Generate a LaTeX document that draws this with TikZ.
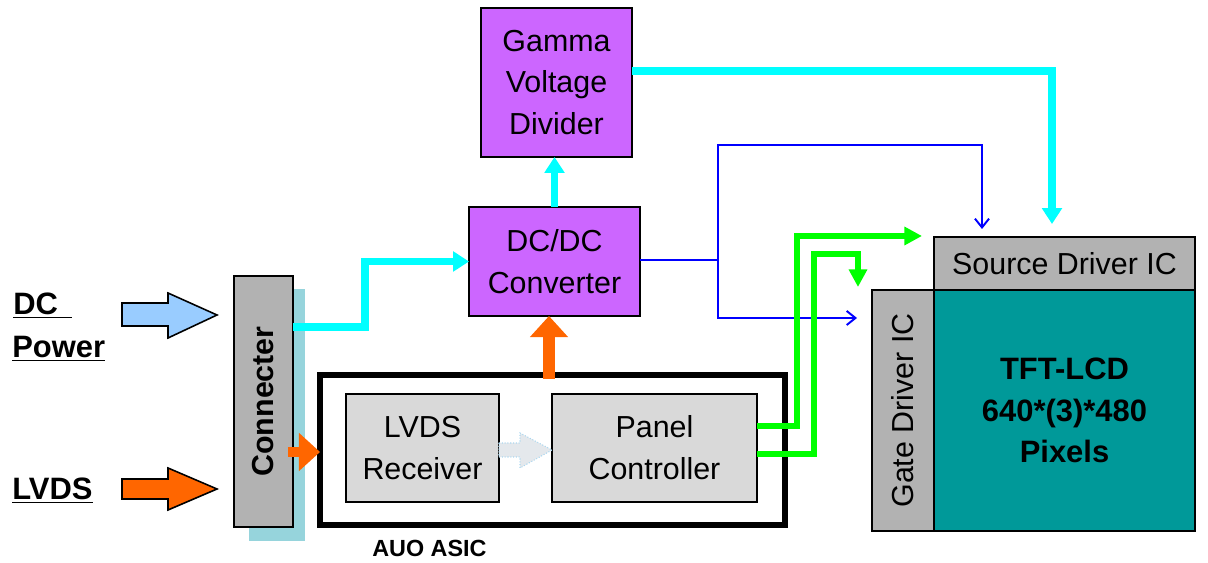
\documentclass[tikz,border=0pt]{standalone}
\usepackage{fontspec}
\setmainfont{Liberation Sans}
\usetikzlibrary{arrows.meta,calc}
\definecolor{purp}{RGB}{204,102,255}
\definecolor{cyanl}{RGB}{0,255,255}
\definecolor{blu}{RGB}{0,0,255}
\definecolor{grn}{RGB}{0,255,0}
\definecolor{orng}{RGB}{255,102,0}
\definecolor{gry}{RGB}{178,178,178}
\definecolor{lgry}{RGB}{217,217,217}
\definecolor{tealb}{RGB}{0,153,153}
\definecolor{ltblue}{RGB}{153,204,255}
\definecolor{shad}{RGB}{150,212,220}
\definecolor{paleg}{RGB}{228,232,236}
\definecolor{paleb}{RGB}{170,215,240}
\begin{document}
\begin{tikzpicture}[x=0.02cm,y=-0.02cm,
  box/.style={draw=black,line width=0.9pt,inner sep=0pt,outer sep=0pt,align=center,
    font=\fontsize{17.3}{23.8}\selectfont},
  cyanline/.style={draw=cyanl,line width=4pt,-{Triangle[length=9pt,width=11pt]}},
  blueline/.style={draw=blu,line width=1.1pt,-{Straight Barb[length=5pt,width=8pt]}},
  greenline/.style={draw=grn,line width=3.4pt,-{Triangle[length=10pt,width=10pt]}},
  orangearrow/.style={draw=orng,-{Triangle[length=12pt,width=21pt]}},
  lbl/.style={inner sep=0pt,anchor=base west,font=\fontsize{17.6}{20}\selectfont\bfseries},
  blockarrow/.style={draw=black,line width=0.9pt}]
\useasboundingbox (0,0) rectangle (1208,563);
% shadow of connector
\fill[shad] (249,289) rectangle (305,541);
% nodes
\node[box,fill=purp,minimum width=3.02cm,minimum height=2.98cm] (gamma) at (556.5,82.5) {Gamma\\Voltage\\Divider};
\node[box,fill=purp,minimum width=3.42cm,minimum height=2.18cm] (dcdc) at (554.5,261.5) {DC/DC\\Converter};
\node[box,fill=gry,minimum width=1.18cm,minimum height=5.02cm] (conn) at (263.5,401.5) {};
\node[rotate=90,font=\fontsize{17.3}{20}\selectfont\bfseries] at (conn.center) {Connecter};
\node[draw=black,line width=3.4pt,inner sep=0pt,outer sep=0pt,minimum width=9.3cm,minimum height=3.0cm] (asic) at (552.5,450) {};
\node[box,fill=lgry,minimum width=3.06cm,minimum height=2.16cm] (lvds) at (422.5,448) {LVDS\\Receiver};
\node[box,fill=lgry,minimum width=4.1cm,minimum height=2.16cm] (panel) at (654.5,448) {Panel\\Controller};
\node[box,fill=gry,minimum width=5.22cm,minimum height=1.06cm] (source) at (1064.5,263.5) {\raisebox{-2pt}{Source Driver IC}};
\node[box,fill=gry,minimum width=1.24cm,minimum height=4.82cm] (gate) at (903,410.5) {};
\node[rotate=90,font=\fontsize{17.3}{20}\selectfont] at (gate.center) {Gate Driver IC};
\node[box,fill=tealb,minimum width=5.22cm,minimum height=4.82cm,font=\fontsize{17.6}{23.8}\selectfont\bfseries] (tft) at (1064.5,410.5) {TFT-LCD\\640*(3)*480\\Pixels};
% labels
\node[lbl] (dclbl) at (13,315) {\underline{DC\ \,}};
\node[lbl] (pwlbl) at (12,358) {\underline{Power}};
\node[lbl] (lvlbl) at (12,500) {\underline{LVDS}};
\node[inner sep=0pt,anchor=base west,font=\fontsize{13.3}{15}\selectfont\bfseries] (asiclbl) at (372,557) {AUO ASIC};
% block arrows
\draw[blockarrow,fill=ltblue] (122,303) -- (168,303) -- (168,293) -- (217,315) -- (168,338) -- (168,326) -- (122,326) -- cycle;
\draw[blockarrow,fill=orng] (122,479) -- (168,479) -- (168,468) -- (217,489) -- (168,510) -- (168,499) -- (122,499) -- cycle;
\draw[paleb,densely dotted,line width=0.6pt,fill=paleg] (lvds.east |- 0,443) -- (520,443) -- (520,433) -- (panel.west |- 0,450) -- (520,468) -- (520,457) -- (lvds.east |- 0,457) -- cycle;
% coordinates for free ends
\coordinate (cyanend) at (1052,224);
\coordinate (blueend1) at (982,229);
\coordinate (blueend2) at (857,318);
\coordinate (g1end) at (922,236);
\coordinate (g2end) at (858,287);
\coordinate (bj) at (718,260);
% orange arrows
\draw[orangearrow,line width=5.7pt] ($(conn.east |- 0,452)+(-5,0)$) -- (asic.west |- 0,452);
\draw[orangearrow,line width=6.5pt] (549,379) -- (dcdc.south -| 549,0);
% cyan lines
\draw[cyanline] (conn.east |- 0,327) -- (365,327) |- (dcdc.west);
\draw[cyanline] (dcdc.north) -- (dcdc.north |- gamma.south);
\draw[cyanline] (gamma.east |- 0,71) -| (cyanend);
% blue lines
\draw[blu,line width=1.1pt] (dcdc.east |- bj) -- (bj);
\draw[blueline] (bj) |- (blueend1 |- 0,145) -- (blueend1);
\draw[blueline] (bj) |- (blueend2);
% green lines
\draw[greenline] (panel.east |- 0,426) -- (797,426) |- (g1end);
\draw[greenline] (panel.east |- 0,454) -- (814,454) |- (g2end |- 0,254) -- (g2end);
\end{tikzpicture}
\end{document}
